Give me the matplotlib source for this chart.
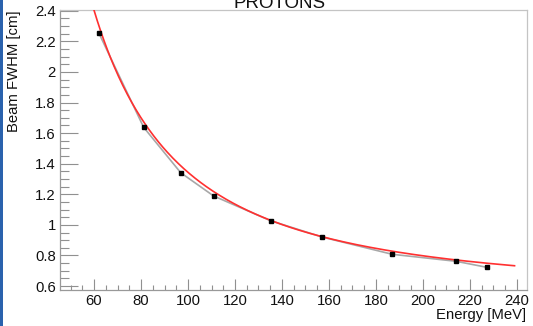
import numpy as np
import matplotlib
matplotlib.use("Agg")
import matplotlib.pyplot as plt
from matplotlib.ticker import MultipleLocator, FuncFormatter
from matplotlib.patches import Rectangle

# Data
energy = [62.1, 81.1, 96.9, 110.9, 135.2, 157.0, 186.9, 214.2, 227.1]
fwhm = [2.252, 1.638, 1.341, 1.189, 1.027, 0.921, 0.808, 0.762, 0.723]

# Fit curve parameters: f(E) = a * E**(-p) + c
fit_a = 1597.0
fit_p = 1.65
fit_c = 0.543
fit_range = (50.0, 239.0)

title = "PROTONS"
xlabel = "Energy [MeV]"
ylabel = "Beam FWHM [cm]"

plt.rcParams['font.family'] = ['Liberation Sans', 'DejaVu Sans']

W, H = 533, 326
fig = plt.figure(figsize=(W / 100, H / 100), dpi=100)
fig.patch.set_facecolor('white')

L, R, T, B = 60, 527, 10, 290
ax = fig.add_axes([L / W, 1 - B / H, (R - L) / W, (B - T) / H])

ax.plot(energy, fwhm, color='#a8a8a8', lw=1.2, zorder=2)
ax.plot(energy, fwhm, 's', color='black', ms=2.2, zorder=4)

ef = np.linspace(fit_range[0], fit_range[1], 400)
ax.plot(ef, fit_a * ef ** (-fit_p) + fit_c, color='#ff3030', lw=1.2, zorder=3)

ax.set_xlim(45.5, 244.3)
ax.set_ylim(0.5745, 2.4046)

ax.xaxis.set_major_locator(MultipleLocator(20))
ax.xaxis.set_minor_locator(MultipleLocator(5))
ax.yaxis.set_major_locator(MultipleLocator(0.2))
ax.yaxis.set_minor_locator(MultipleLocator(0.05))
ax.yaxis.set_major_formatter(FuncFormatter(lambda v, p: "%g" % round(v, 2)))
ax.xaxis.set_major_formatter(FuncFormatter(lambda v, p: "%g" % round(v, 2)))

tick_col = '#909090'
ax.tick_params(axis='x', which='major', direction='in', length=7.7, width=0.8,
               color=tick_col, labelsize=10.7, pad=3, labelcolor='#111111')
ax.tick_params(axis='x', which='minor', direction='in', length=3.6, width=0.8, color=tick_col)
ax.tick_params(axis='y', which='major', direction='in', length=13, width=0.8,
               color=tick_col, labelsize=10.7, pad=3, labelcolor='#111111')
ax.tick_params(axis='y', which='minor', direction='in', length=6.5, width=0.8, color=tick_col)

for s in ['left', 'bottom']:
    ax.spines[s].set_color('#999999')
    ax.spines[s].set_linewidth(0.9)
for s in ['top', 'right']:
    ax.spines[s].set_color('#c4c4c4')
    ax.spines[s].set_linewidth(0.9)

fig.text(526 / W, 1 - 319 / H, xlabel, ha='right', va='baseline', fontsize=10.7, color='#111111')
fig.text(14 / W, 1 - 10 / H, ylabel, ha='center', va='top', rotation=90, fontsize=10.7, color='#111111')
fig.text(280 / W, 1 - 8 / H, title, ha='center', va='baseline', fontsize=13.5, color='#111111')

fig.patches.append(Rectangle((0, 0), 2.5 / W, 1, transform=fig.transFigure,
                             facecolor='#2a62ad', edgecolor='none', zorder=10))

fig.savefig('out.png', dpi=100, facecolor='white')
